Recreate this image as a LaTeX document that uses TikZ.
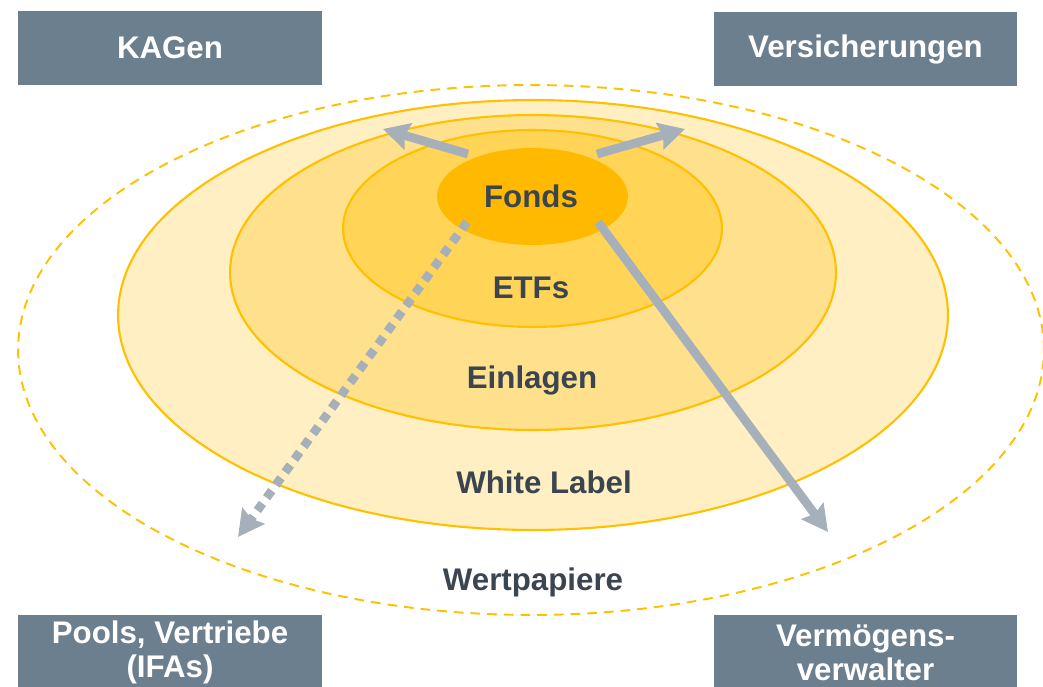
\documentclass[tikz,border=0pt]{standalone}
\usepackage{fontspec}
\setmainfont{Liberation Sans}
\usetikzlibrary{arrows.meta,shapes.geometric}
\definecolor{boxc}{HTML}{6B7F8E}
\definecolor{arr}{HTML}{A5B0BA}
\definecolor{gold}{HTML}{FFC000}
\definecolor{fa}{HTML}{FFEFC2}
\definecolor{fb}{HTML}{FFE08C}
\definecolor{fc}{HTML}{FFD457}
\definecolor{fd}{HTML}{FFBA00}
\definecolor{txt}{HTML}{3B4550}
\begin{document}
\begin{tikzpicture}[x=0.02cm,y=-0.02cm,
  box/.style={fill=boxc, text=white, font=\fontsize{17.8}{19.2}\selectfont\bfseries,
    minimum width=6.08cm, minimum height=1.5cm, inner sep=0pt, align=center},
  ring/.style={ellipse, draw=gold, line width=1.2pt, inner sep=0pt},
  lbl/.style={text=txt, font=\fontsize{17.8}{19.2}\selectfont\bfseries,
    inner sep=0pt, text height=0.716em, text depth=0pt},
  arrw/.style={draw=arr, line width=5pt, -{Stealth[length=0.52cm,width=0.54cm,inset=0.07cm]}}]
\useasboundingbox (0,0) rectangle (1043,686);

% rings
\node[ring, dashed, dash pattern=on 5.5pt off 4pt, line width=1.1pt,
  minimum width=20.52cm, minimum height=10.6cm] (wp) at (531,350) {};
\node[ring, fill=fa, minimum width=16.6cm, minimum height=8.6cm] (wl) at (533,315) {};
\node[ring, fill=fb, minimum width=12.12cm, minimum height=6.3cm] (ein) at (533,272.5) {};
\node[ring, fill=fc, minimum width=7.58cm, minimum height=3.94cm] (etf) at (532.5,228.5) {};
\node[ellipse, fill=fd, inner sep=0pt, minimum width=3.82cm, minimum height=1.94cm] (fonds) at (532.5,196.5) {};

% labels
\node[lbl] (tfonds) at (531,201) {Fonds};
\node[lbl] (tetf) at (531,292) {ETFs};
\node[lbl] (tein) at (532,382) {Einlagen};
\node[lbl] (twl) at (544,487) {White Label};
\node[lbl] (twp) at (533,584) {Wertpapiere};

% boxes
\node[box] (kag) at (170,48) {KAGen};
\node[box] (vers) at (865.5,49) {Versicherungen};
\node[box] (pools) at (170,652.5) {Pools, Vertriebe\\(IFAs)};
\node[box] (verm) at (865.5,652.5) {Verm\"ogens-\\verwalter};

% arrows
\coordinate (s1) at (468,154);
\coordinate (e1) at (383,129);
\coordinate (s2) at (597,154);
\coordinate (e2) at (685,129);
\coordinate (s3) at (598,222);
\coordinate (e3) at (828,532);
\coordinate (s4) at (467,222);
\coordinate (e4) at (238,537);
\draw[arrw] (s1) -- (e1);
\draw[arrw] (s2) -- (e2);
\draw[arrw] (s3) -- (e3);
\draw[arrw, dash pattern=on 5pt off 4pt] (s4) -- (e4);
\end{tikzpicture}
\end{document}
